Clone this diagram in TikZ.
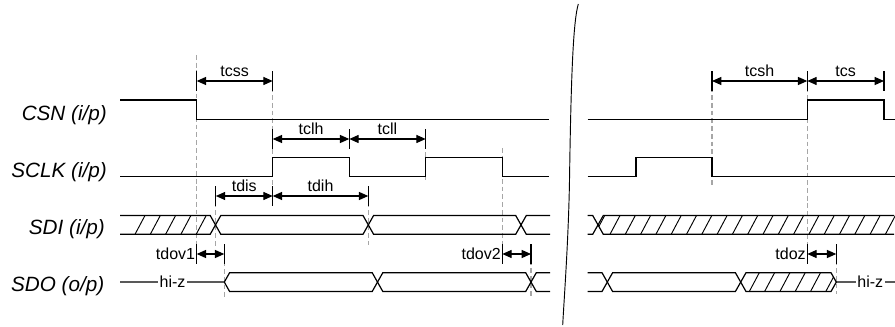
\documentclass[tikz,border=0pt]{standalone}
\usepackage{fontspec}
\setmainfont{Liberation Sans}
\usetikzlibrary{arrows.meta}
\tikzset{
    sig/.style={black, line width=0.9pt},
    hatch/.style={black, line width=0.7pt},
    guide/.style={black!35, line width=0.8pt, dash pattern=on 3.6pt off 2.2pt},
    dimline/.style={black, line width=0.9pt, {Triangle[length=7pt,width=6pt]}-{Triangle[length=7pt,width=6pt]}},
    dimlabel/.style={anchor=base, inner sep=0pt, yshift=3.5pt, font=\fontsize{12}{14}\selectfont},
    sidelabel/.style={anchor=east, inner sep=0pt, xshift=-1pt, font=\fontsize{12}{14}\selectfont},
    signame/.style={anchor=base east, inner sep=0pt, font=\fontsize{15.5}{18}\selectfont\itshape},
    hiz/.style={fill=white, inner sep=1pt, font=\fontsize{12}{14}\selectfont}
}
\begin{document}
\begin{tikzpicture}[x=0.75pt, y=-0.75pt]
    \useasboundingbox (0,0) rectangle (895,327);
    % signal names
    \node[signame] (csn) at (107,120.7) {CSN (i/p)};
    \node[signame] (sclk) at (107,177.3) {SCLK (i/p)};
    \node[signame] (sdi) at (105,235) {SDI (i/p)};
    \node[signame] (sdo) at (104.5,291.7) {SDO (o/p)};
    % timing marks
    \coordinate (cssA) at (196.7,81);
    \coordinate (cssB) at (272.7,81);
    \coordinate (clhA) at (272.7,139);
    \coordinate (clhB) at (349.3,139);
    \coordinate (cllB) at (425.7,139);
    \coordinate (disA) at (215.8,196);
    \coordinate (disB) at (272.7,196);
    \coordinate (dihB) at (368.3,196);
    \coordinate (dovA) at (196.7,254);
    \coordinate (dovB) at (224.3,254);
    \coordinate (dovC) at (502.3,254);
    \coordinate (dovD) at (531,254);
    \coordinate (cshA) at (712,81);
    \coordinate (cshB) at (807.3,81);
    \coordinate (csB) at (884,81);
    \coordinate (dozA) at (807.3,254);
    \coordinate (dozB) at (836.3,254);
    % dashed guides
    \draw[guide] (196.7,55) -- (196.7,262);
    \draw[guide] (215.8,187) -- (215.8,246);
    \draw[guide] (272.7,72) -- (272.7,205);
    \draw[guide] (368.3,187) -- (368.3,245);
    \draw[guide] (425.7,129) -- (425.7,183);
    \draw[guide] (502.3,148) -- (502.3,263);
    \draw[guide] (224.3,246) -- (224.3,298);
    \draw[guide] (531,245) -- (531,298);
    \draw[guide] (712,72) -- (712,187);
    \draw[guide] (807.3,72) -- (807.3,263);
    \draw[guide] (836.3,245) -- (836.3,294);
    % CSN
    \draw[sig] (120,100) -- (196.7,100) -- (196.7,119.3) -- (549.3,119.3);
    \draw[sig] (587.7,119.3) -- (807.3,119.3) -- (807.3,100) -- (884,100) -- (884,119.3) -- (895,119.3);
    % SCLK
    \draw[sig] (120,176.7) -- (272.7,176.7) -- (272.7,157.7) -- (349.3,157.7) -- (349.3,176.7)
        -- (425.7,176.7) -- (425.7,157.7) -- (502.3,157.7) -- (502.3,176.7) -- (549.3,176.7);
    \draw[sig] (587.7,176.7) -- (636,176.7) -- (636,157.7) -- (712,157.7) -- (712,176.7) -- (895,176.7);
    % SDI
    \draw[sig] (120,215.5) -- (210.2,215.5) -- (220.8,234.3) -- (363,234.3) -- (373.6,215.5)
        -- (515.7,215.5) -- (526.3,234.3) -- (550,234.3);
    \draw[sig] (120,234.3) -- (210.2,234.3) -- (220.8,215.5) -- (363,215.5) -- (373.6,234.3)
        -- (515.7,234.3) -- (526.3,215.5) -- (550,215.5);
    \begin{scope}
        \clip (120,215.5) -- (210.2,215.5) -- (215.5,224.9) -- (210.2,234.3) -- (120,234.3) -- cycle;
        \foreach \x in {135,150.3,...,200}
            \draw[hatch] (\x,234.3) -- ++(10,-18.8);
    \end{scope}
    \draw[sig] (587.7,215.5) -- (592.7,215.5) -- (603.3,234.3) -- (894,234.3);
    \draw[sig] (587.7,234.3) -- (592.7,234.3) -- (603.3,215.5) -- (894,215.5);
    \begin{scope}
        \clip (598,224.9) -- (603.3,215.5) -- (895,215.5) -- (895,234.3) -- (603.3,234.3) -- cycle;
        \foreach \x in {594.7,610,...,900}
            \draw[hatch] (\x,234.3) -- ++(10,-18.8);
    \end{scope}
    % SDO
    \draw[sig] (120,282.1) -- (224.3,282.1) -- (229.6,272.7) -- (372.2,272.7) -- (382.8,291.5)
        -- (525.7,291.5) -- (536.3,272.7) -- (550,272.7);
    \draw[sig] (224.3,282.1) -- (229.6,291.5) -- (372.2,291.5) -- (382.8,272.7) -- (525.7,272.7)
        -- (536.3,291.5) -- (550,291.5);
    \node[hiz] (hizA) at (172.5,282.1) {hi-z};
    \draw[sig] (587.7,272.7) -- (602,272.7) -- (612.6,291.5) -- (735.4,291.5) -- (746,272.7)
        -- (831,272.7) -- (836.3,282.1) -- (895,282.1);
    \draw[sig] (587.7,291.5) -- (602,291.5) -- (612.6,272.7) -- (735.4,272.7) -- (746,291.5)
        -- (831,291.5) -- (836.3,282.1);
    \begin{scope}
        \clip (740.7,282.1) -- (746,272.7) -- (831,272.7) -- (836.3,282.1) -- (831,291.5) -- (746,291.5) -- cycle;
        \foreach \x in {734,749.3,...,840}
            \draw[hatch] (\x,291.5) -- ++(10,-18.8);
    \end{scope}
    \node[hiz] (hizB) at (870.3,282.1) {hi-z};
    % ticks
    \foreach \c in {cssA,cssB,clhA,clhB,cllB,disA,disB,dihB,dovA,dovB,dovC,dovD,cshA,cshB,csB,dozA,dozB}
        \draw[sig] ([yshift=7.2pt]\c) -- ([yshift=-7.2pt]\c);
    % timings
    \draw[dimline] (cssA) -- (cssB) node[midway, dimlabel] {tcss};
    \draw[dimline] (clhA) -- (clhB) node[midway, dimlabel] {tclh};
    \draw[dimline] (clhB) -- (cllB) node[midway, dimlabel] {tcll};
    \draw[dimline] (disA) -- (disB) node[midway, dimlabel] {tdis};
    \draw[dimline] (disB) -- (dihB) node[midway, dimlabel] {tdih};
    \draw[dimline] (dovA) -- (dovB);
    \node[sidelabel] (dov1) at (dovA) {tdov1};
    \draw[dimline] (dovC) -- (dovD);
    \node[sidelabel] (dov2) at (dovC) {tdov2};
    \draw[dimline] (cshA) -- (cshB) node[midway, dimlabel] {tcsh};
    \draw[dimline] (cshB) -- (csB) node[midway, dimlabel] {tcs};
    \draw[dimline] (dozA) -- (dozB);
    \node[sidelabel] (doz) at (dozA) {tdoz};
    % break
    \draw[line width=0.7pt] (578.3,4) .. controls (573,22) and (571,80) .. (569.5,180)
        .. controls (568.5,240) and (564,300) .. (562.7,325);
\end{tikzpicture}
\end{document}
